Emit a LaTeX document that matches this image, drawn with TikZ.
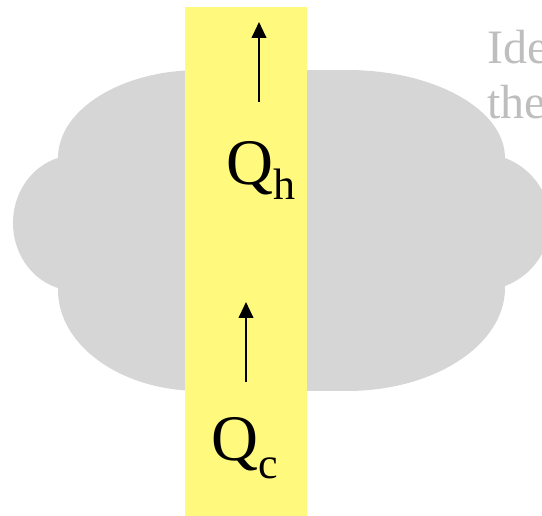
\documentclass[tikz,border=0pt]{standalone}
\usepackage{fontspec}
\setmainfont{Liberation Serif}
\usetikzlibrary{arrows.meta}
\definecolor{cloudgray}{RGB}{214,214,214}
\definecolor{bandyellow}{RGB}{255,250,125}
\definecolor{textgray}{RGB}{190,190,190}
\tikzset{
  heatarrow/.style={line width=1.5pt,-{Triangle[length=12pt,width=11pt]}},
  qlabel/.style={inner sep=0pt,anchor=base west,font=\fontsize{48.75pt}{50pt}\selectfont},
  graytext/.style={inner sep=0pt,anchor=base west,text=textgray,font=\fontsize{36pt}{40pt}\selectfont},
  cloudpart/.style={fill=cloudgray}
}
\newcommand{\subsz}{\fontsize{33pt}{33pt}\selectfont}
\begin{document}
\begin{tikzpicture}[x=0.75pt,y=-0.75pt]
\useasboundingbox (0,0) rectangle (542,516);
\clip (0,0) rectangle (542,516);
% cloud: union of rounded parts
\fill[cloudpart] (200,158) ellipse [x radius=142,y radius=88];
\fill[cloudpart] (347,158) ellipse [x radius=158,y radius=88];
\fill[cloudpart] (200,70) rectangle (347,158);
\fill[cloudpart] (58,158) rectangle (505,288);
\fill[cloudpart] (200,290) ellipse [x radius=142,y radius=101];
\fill[cloudpart] (347,288) ellipse [x radius=158,y radius=103];
\fill[cloudpart] (200,288) rectangle (347,391);
\fill[cloudpart] (75,223) ellipse [x radius=62,y radius=67.6];
\fill[cloudpart] (480,222) ellipse [x radius=70,y radius=68.5];
% yellow band
\fill[bandyellow] (185,7) rectangle (307,520);
% arrows
\coordinate (h0) at (259,102);
\coordinate (h1) at (259,22);
\coordinate (c0) at (246,382);
\coordinate (c1) at (246,302);
\draw[heatarrow] (h0) -- (h1);
\draw[heatarrow] (c0) -- (c1);
% labels
\node[qlabel] (qh) at (226,185) {Q\raisebox{-11.25pt}{\subsz h}};
\node[qlabel] (qc) at (211,460) {Q\raisebox{-13.5pt}{\subsz c}};
% gray text
\node[graytext] (t1) at (487,64) {Ide};
\node[graytext] (t2) at (487,119) {the};
\end{tikzpicture}
\end{document}
